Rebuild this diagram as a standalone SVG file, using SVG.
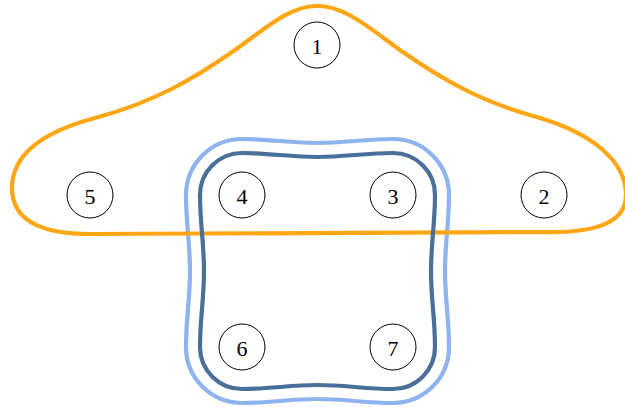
<svg xmlns="http://www.w3.org/2000/svg" width="625" height="407" viewBox="0 0 625 407">
<style>
.node circle{fill:#fff;fill-opacity:0;stroke:#000;stroke-width:1}
.node text{font-family:"Liberation Serif","DejaVu Serif",serif;font-size:22px;text-anchor:middle;dominant-baseline:central;fill:#000}
.edge{fill:none;stroke-width:4.2;stroke-linejoin:round}
</style>
<g id="hyperedges">
<path class="edge" stroke="#8fb3ef" d="M242,139 C270,139 290,143 317.5,143 S365,139 393,139 A56,56 0 0 1 449,195 C449,223 445,243 445,271 S449,319 449,347 A56,56 0 0 1 393,403 C365,403 345,399 317.5,399 S270,403 242,403 A56,56 0 0 1 186,347 C186,319 190,299 190,271 S186,223 186,195 A56,56 0 0 1 242,139 Z"/>
<path class="edge" stroke="#ffa615" d="M317,6 C345,6 368,27 400,50 C440,78 480,102 540,118 C590,133 626,160 626,195 C626,225 590,233 545,232 L90,234 C50,234 12,225 12,188 C12,150 50,130 95,118 C155,102 195,78 235,50 C267,27 290,6 317,6 Z"/>
<path class="edge" stroke="#4a7099" d="M242,153 C270,153 290,157 317.5,157 S365,153 393,153 A42,42 0 0 1 435,195 C435,223 431,243 431,271 S435,319 435,347 A42,42 0 0 1 393,389 C365,389 345,385 317.5,385 S270,389 242,389 A42,42 0 0 1 200,347 C200,319 204,299 204,271 S200,223 200,195 A42,42 0 0 1 242,153 Z"/>
</g>
<g id="n1" class="node"><circle cx="317" cy="45" r="23"/><text x="317" y="46">1</text></g>
<g id="n2" class="node"><circle cx="544" cy="195" r="23"/><text x="544" y="196">2</text></g>
<g id="n3" class="node"><circle cx="393" cy="195" r="23"/><text x="393" y="196">3</text></g>
<g id="n4" class="node"><circle cx="242" cy="195" r="23"/><text x="242" y="196">4</text></g>
<g id="n5" class="node"><circle cx="90" cy="195" r="23"/><text x="90" y="196">5</text></g>
<g id="n6" class="node"><circle cx="242" cy="347" r="23"/><text x="242" y="348">6</text></g>
<g id="n7" class="node"><circle cx="393" cy="347" r="23"/><text x="393" y="348">7</text></g>
</svg>
